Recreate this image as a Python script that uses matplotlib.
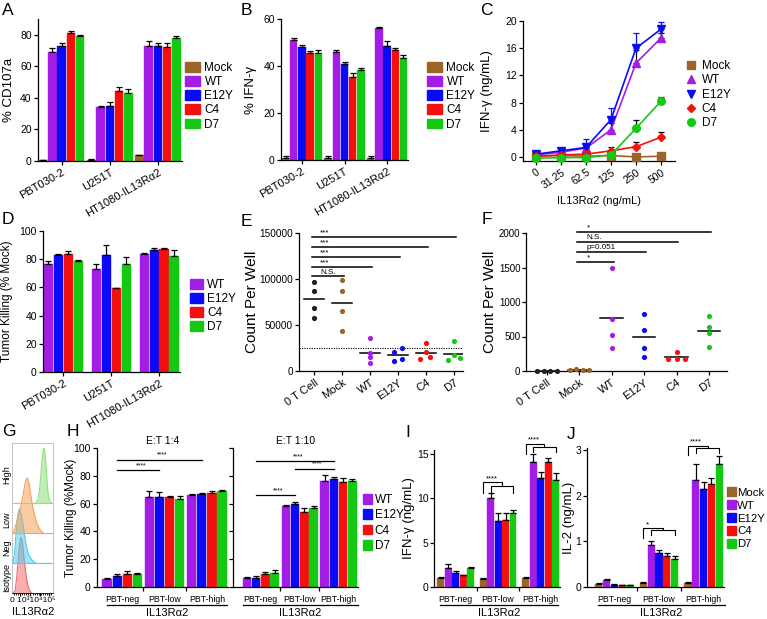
import numpy as np
import matplotlib
matplotlib.use('Agg')
import matplotlib.pyplot as plt
from matplotlib.patches import Patch
from matplotlib.lines import Line2D

plt.rcParams['font.family'] = ['Liberation Sans', 'DejaVu Sans']
plt.rcParams['axes.linewidth'] = 0.9
plt.rcParams['xtick.major.width'] = 0.9
plt.rcParams['ytick.major.width'] = 0.9
plt.rcParams['xtick.major.size'] = 3
plt.rcParams['ytick.major.size'] = 3
plt.rcParams['xtick.labelsize'] = 7
plt.rcParams['ytick.labelsize'] = 7.5

W, H = 767, 619

# ---- data ----
cell_lines = ['PBT030-2', 'U251T', 'HT1080-IL13Rα2']
variants5 = ['Mock', 'WT', 'E12Y', 'C4', 'D7']
variants4 = ['WT', 'E12Y', 'C4', 'D7']
colors = {'Mock': '#9c6428', 'WT': '#a41de6', 'E12Y': '#0a0af5',
          'C4': '#f51010', 'D7': '#14c814', '0 T Cell': '#202020'}

# A: % CD107a (rows = variants5, cols = cell lines)
a_mean = [[0.5, 0.7, 3.5], [69, 34, 73], [73, 35, 73], [81, 44.5, 72], [79.5, 43, 78]]
a_err = [[0.3, 0.3, 0.6], [2.5, 0.8, 3], [2, 2.5, 1.5], [1.3, 2.5, 2.5], [0.5, 2.5, 1]]

# B: % IFN-g
b_mean = [[1, 1, 1], [51, 46, 56], [48, 41, 48.5], [45.5, 35.5, 47], [45.5, 38.5, 43.5]]
b_err = [[0.5, 0.5, 0.5], [1, 1, 0.8], [1, 0.8, 2], [1, 1.5, 0.8], [1.2, 0.5, 1.2]]

# C: IFN-g vs IL13Ra2 concentration
c_conc = ['0', '31.25', '62.5', '125', '250', '500']
c_mean = [[0.1, 0.2, 0.1, 0.2, 0.0, 0.1],
          [0.3, 0.7, 1.3, 4.0, 13.8, 17.5],
          [0.4, 0.9, 1.4, 5.5, 16.0, 18.8],
          [0.1, 0.3, 0.4, 0.9, 1.5, 2.9],
          [-0.2, -0.1, -0.1, 0.3, 4.2, 8.2]]
c_err = [[0.1, 0.1, 0.1, 0.1, 0.1, 0.1],
         [0.2, 0.2, 0.4, 1.0, 1.9, 0.8],
         [0.2, 0.3, 1.2, 1.7, 2.3, 1.0],
         [0.1, 0.2, 0.3, 0.6, 0.7, 0.8],
         [0.1, 0.1, 0.1, 0.2, 1.2, 0.6]]

# D: tumor killing (rows = variants4)
d_mean = [[76.5, 73, 84], [83, 83, 86.5], [84, 59.5, 87], [78.5, 76.5, 82.5]]
d_err = [[2, 3.5, 0.3], [0.5, 7, 1.5], [1.5, 0.3, 0.8], [1, 5, 4]]

# E / F: counts per well
ef_cats = ['0 T Cell', 'Mock', 'WT', 'E12Y', 'C4', 'D7']
e_points = [[97000, 87000, 69000, 58000], [99000, 87000, 65000, 44000],
            [36000, 20000, 15000, 9000], [21000, 25000, 10500, 13500],
            [30000, 21000, 13000, 15000], [33000, 17000, 12000, 14000]]
e_cutoff = 25000
e_sig = [(1, 103000, 'N.S.'), (2, 113000, '***'), (3, 124000, '***'),
         (4, 135000, '***'), (5, 146000, '***')]
f_points = [[5, 5, 5, 5], [15, 25, 10, 10],
            [1490, 750, 520, 330], [830, 590, 340, 200],
            [270, 170, 180, 180], [790, 640, 550, 350]]
f_sig = [(2, 1580, '*'), (3, 1725, 'p=0.051'), (4, 1870, 'N.S.'), (5, 2015, '*')]

# G: flow histograms (x as fraction of axis, height above baseline)
g_rows = ['Isotype', 'Neg', 'Low', 'High']
g_iso_x = [0.03, 0.08, 0.12, 0.16, 0.20, 0.23, 0.26, 0.30, 0.34, 0.38, 0.42, 0.48]
g_iso_y = [0, 0.1, 0.6, 1.3, 1.8, 1.85, 1.6, 1.1, 0.6, 0.3, 0.1, 0]
g_neg_x = [0.02, 0.06, 0.10, 0.14, 0.18, 0.21, 0.24, 0.28, 0.32, 0.36, 0.40, 0.46, 0.52, 0.58]
g_neg_y = [0, 0.3, 1.0, 1.6, 1.8, 1.7, 1.5, 1.2, 0.8, 0.5, 0.3, 0.15, 0.05, 0]
g_low_x = [0.03, 0.08, 0.14, 0.20, 0.26, 0.31, 0.35, 0.38, 0.42, 0.46, 0.50, 0.55, 0.60, 0.65, 0.70, 0.76]
g_low_y = [0, 0.2, 0.5, 0.8, 1.2, 1.6, 1.8, 1.83, 1.6, 1.25, 0.9, 0.6, 0.35, 0.2, 0.08, 0]
g_high_x = [0.58, 0.63, 0.67, 0.70, 0.73, 0.76, 0.78, 0.80, 0.83, 0.86, 0.89, 0.93, 0.97]
g_high_y = [0, 0.1, 0.4, 0.9, 1.4, 1.75, 1.83, 1.7, 1.2, 0.6, 0.2, 0.05, 0]
g_tick_text = '0 10³10⁴10⁵'

# H: tumor killing by IL13Ra2 level (rows = variants4)
pbt_groups = ['PBT-neg', 'PBT-low', 'PBT-high']
h14_mean = [[6, 65, 66], [8, 65, 67], [9.5, 64.5, 67.5], [9, 63.5, 69]]
h14_err = [[0.8, 4, 0.8], [1.2, 3, 0.4], [2, 1, 1.5], [0.8, 2, 0.5]]
h110_mean = [[6.5, 58, 76], [6.5, 59.5, 77.5], [9, 54, 75.5], [10, 56.5, 76]]
h110_err = [[1, 1, 4.5], [1.5, 1.5, 1.5], [2, 2.5, 3], [2, 1.5, 2]]

# I: IFN-g (rows = variants5)
i_mean = [[1.0, 0.9, 1.05], [2.1, 10.0, 14.0], [1.6, 7.4, 12.3], [1.3, 7.5, 14.0], [2.1, 8.3, 12.0]]
i_err = [[0.1, 0.1, 0.1], [0.5, 0.6, 0.9], [0.2, 0.9, 0.6], [0.1, 0.8, 0.5], [0.1, 0.4, 0.8]]

# J: IL-2 (rows = variants5)
j_mean = [[0.07, 0.08, 0.09], [0.15, 0.93, 2.35], [0.05, 0.75, 2.15], [0.04, 0.67, 2.26], [0.04, 0.61, 2.69]]
j_err = [[0.01, 0.02, 0.02], [0.02, 0.08, 0.34], [0.01, 0.06, 0.15], [0.01, 0.08, 0.13], [0.01, 0.07, 0.19]]


# ---- helpers ----
def px_axes(fig, left, right, top, bottom):
    ax = fig.add_axes([left / W, 1 - bottom / H, (right - left) / W, (bottom - top) / H])
    ax.px_lr = (left, right)
    return ax


def clean(ax):
    ax.spines['top'].set_visible(False)
    ax.spines['right'].set_visible(False)
    ax.tick_params(direction='out', pad=1.5)


def ylab(ax, text, xpx, fs):
    # y label centred at a given pixel column
    left, right = ax.px_lr
    ax.set_ylabel(text, fontsize=fs)
    ax.yaxis.set_label_coords((xpx - left) / (right - left), 0.5)
    ax.yaxis.label.set_verticalalignment('center')


def grouped_bars(ax, means, errs, names, spacing):
    n = len(names)
    ngroups = len(means[0])
    centers = np.arange(ngroups) * spacing
    for k, name in enumerate(names):
        x = centers + (k - (n - 1) / 2)
        y = np.array(means[k])
        e = np.array(errs[k])
        ax.bar(x, y, width=0.92, color=colors[name], edgecolor=colors[name], lw=0.3, zorder=2)
        ax.errorbar(x, y, yerr=[np.zeros_like(e), e], fmt='none', ecolor='black',
                    elinewidth=0.9, capsize=2, capthick=0.9, zorder=3)
    return centers


def patch_legend(ax, fig, names, x, y, fs=8.5, hl=1.3, hh=0.9, pad=0.35, sp=0.18):
    handles = [Patch(facecolor=colors[n], edgecolor=colors[n], label=n) for n in names]
    ax.legend(handles=handles, loc='upper left', bbox_to_anchor=(x / W, 1 - y / H),
              bbox_transform=fig.transFigure, frameon=False, fontsize=fs,
              handlelength=hl, handleheight=hh, handletextpad=pad,
              labelspacing=sp, borderaxespad=0, borderpad=0)


def fig_text(fig, x, y, s, **kw):
    fig.text(x / W, 1 - y / H, s, **kw)


def fig_line(fig, x1, x2, y):
    fig.add_artist(Line2D([x1 / W, x2 / W], [1 - y / H, 1 - y / H], color='black', lw=0.9))


def bracket(ax, xm, x1, x2, ytop, ymid, yleg_m, yleg_g, label, fs=5.5):
    xc = (x1 + x2) / 2
    kw = dict(color='black', lw=0.8, clip_on=False)
    ax.plot([xm, xm, xc, xc], [yleg_m, ytop, ytop, ymid], **kw)
    ax.plot([x1, x1, x2, x2], [yleg_g, ymid, ymid, yleg_g], **kw)
    ax.text(xm + 0.3, ytop, label, ha='left', va='bottom', fontsize=fs)


def pbt_axis(ax, centers):
    bounds = [(centers[0] + centers[1]) / 2, (centers[1] + centers[2]) / 2]
    ax.set_xticks(bounds)
    ax.set_xticklabels(['', ''])
    ax.set_xticks(centers, minor=True)
    ax.set_xticklabels(pbt_groups, minor=True, fontsize=6.3)
    ax.tick_params(axis='x', which='minor', length=0, pad=6)


fig = plt.figure(figsize=(W / 100, H / 100), dpi=100)

# ---- A ----
ax = px_axes(fig, 38, 182, 19, 161)
clean(ax)
cen = grouped_bars(ax, a_mean, a_err, variants5, 5.2)
ax.set_xlim(-2.55, 2 * 5.2 + 2.6)
ax.set_ylim(0, 90)
ax.set_yticks([0, 20, 40, 60, 80])
ax.set_xticks(cen)
ax.set_xticklabels(cell_lines, rotation=30, ha='right', rotation_mode='anchor', fontsize=8)
ylab(ax, '% CD107a', 9, 9.5)
patch_legend(ax, fig, variants5, 185, 62)

# ---- B ----
ax = px_axes(fig, 281, 408, 19, 160)
clean(ax)
cen = grouped_bars(ax, b_mean, b_err, variants5, 5.2)
ax.set_xlim(-2.55, 2 * 5.2 + 2.55)
ax.set_ylim(0, 60)
ax.set_yticks([0, 20, 40, 60])
ax.set_xticks(cen)
ax.set_xticklabels(cell_lines, rotation=30, ha='right', rotation_mode='anchor', fontsize=8)
ylab(ax, '% IFN-γ', 251, 9.5)
patch_legend(ax, fig, variants5, 427, 62)

# ---- C ----
ax = px_axes(fig, 523, 675, 21, 161)
clean(ax)
markers = {'Mock': 's', 'WT': '^', 'E12Y': 'v', 'C4': 'D', 'D7': 'o'}
msize = {'Mock': 6, 'WT': 6, 'E12Y': 6, 'C4': 4.5, 'D7': 5.5}
xs = np.arange(len(c_conc))
for k, name in enumerate(variants5):
    y = np.array(c_mean[k])
    e = np.array(c_err[k])
    ecol = colors['E12Y'] if name == 'E12Y' else 'black'
    ax.errorbar(xs, y, yerr=[np.zeros_like(e), e], fmt='none', ecolor=ecol,
                elinewidth=0.9, capsize=2.5, capthick=0.9, zorder=2)
    ax.plot(xs, y, color=colors[name], lw=1.2, marker=markers[name],
            ms=msize[name], zorder=3, label=name, clip_on=False)
ax.set_xlim(-0.52, 5.56)
ax.set_ylim(-0.6, 20)
ax.set_yticks([0, 4, 8, 12, 16, 20])
ax.set_xticks(xs)
ax.set_xticklabels(c_conc, rotation=35, ha='right', rotation_mode='anchor', fontsize=7.5)
ax.set_xlabel('IL13Rα2 (ng/mL)', fontsize=8, labelpad=4)
ylab(ax, 'IFN-γ (ng/mL)', 487, 9.5)
ax.legend(loc='upper left', bbox_to_anchor=(685 / W, 1 - 60 / H), bbox_transform=fig.transFigure,
          frameon=False, fontsize=8.5, handlelength=1.0, handletextpad=0.4,
          labelspacing=0.2, borderaxespad=0, borderpad=0)
for h in ax.get_legend().legend_handles:
    h.set_linestyle('none')

# ---- D ----
ax = px_axes(fig, 43, 180, 231, 372)
clean(ax)
cen = grouped_bars(ax, d_mean, d_err, variants4, 4.8)
ax.set_xlim(-2.05, 2 * 4.8 + 2.1)
ax.set_ylim(0, 100)
ax.set_yticks([0, 20, 40, 60, 80, 100])
ax.set_xticks(cen)
ax.set_xticklabels(cell_lines, rotation=30, ha='right', rotation_mode='anchor', fontsize=8)
ylab(ax, 'Tumor Killing (% Mock)', 7, 8.5)
patch_legend(ax, fig, variants4, 190, 279, hl=1.1)


# ---- E / F ----
def count_panel(ax, points, offsets, sig, start, ytop):
    for i, (cat, vals) in enumerate(zip(ef_cats, points)):
        x = i + np.array(offsets[i])
        ax.scatter(x, vals, s=14, color=colors[cat], zorder=3, clip_on=False, lw=0)
        m = np.mean(vals)
        ax.plot([i - 0.35, i + 0.35], [m, m], color='black', lw=1.1, zorder=2)
    for target, yv, lab in sig:
        ax.plot([start - 0.08, target + 0.06], [yv, yv], color='black', lw=1.1, clip_on=False)
        ax.text(start + 0.22, yv + ytop * 0.004, lab, ha='left', va='bottom', fontsize=5.8)
    ax.set_xticks(range(len(ef_cats)))
    ax.set_xticklabels(ef_cats, rotation=35, ha='right', rotation_mode='anchor', fontsize=8)


zero_off = [0, 0, 0, 0]
e_offsets = [zero_off, zero_off, zero_off, [-0.15, 0.15, -0.15, 0.15],
             [0, 0, -0.2, 0.15], [0, 0, -0.2, 0.2]]
ax = px_axes(fig, 299, 463, 233, 371)
clean(ax)
count_panel(ax, e_points, e_offsets, e_sig, 0, 150000)
ax.axhline(e_cutoff, color='black', lw=0.8, ls=(0, (1, 1.2)), zorder=1)
ax.set_xlim(-0.54, 5.32)
ax.set_ylim(0, 150000)
ax.set_yticks([0, 50000, 100000, 150000])
ax.tick_params(axis='y', labelsize=7.2)
ylab(ax, 'Count Per Well', 252, 11)

spread = [-0.3, -0.1, 0.1, 0.3]
f_offsets = [spread, spread, [0, 0, 0, 0], [0, 0, 0, 0], [0, -0.25, 0, 0.25], [0, 0, 0, 0]]
ax = px_axes(fig, 526, 727, 233, 371)
clean(ax)
count_panel(ax, f_points, f_offsets, f_sig, 1, 2000)
ax.set_xlim(-0.65, 5.56)
ax.set_ylim(0, 2000)
ax.set_yticks([0, 500, 1000, 1500, 2000])
ax.tick_params(axis='y', labelsize=7, pad=1)
ylab(ax, 'Count Per Well', 490, 11)

# ---- G ----
ax = px_axes(fig, 12, 53, 443, 593)
curves = [(g_iso_x, g_iso_y, '#f26d6d'), (g_neg_x, g_neg_y, '#4fcdf0'),
          (g_low_x, g_low_y, '#f5a25e'), (g_high_x, g_high_y, '#8ee07e')]
for base, (gx, gy, fc) in enumerate(curves):
    gx = np.array(gx)
    gy = np.array(gy) + base
    ax.fill_between(gx, base, gy, color=fc, alpha=0.55, lw=0, zorder=2 + base)
    ax.plot(gx, gy, color=fc, lw=0.8, zorder=2 + base)
    if base > 0:
        ax.plot([0, 1], [base, base], color=fc, lw=0.8, zorder=2 + base)
ax.set_xlim(0, 1)
ax.set_ylim(0, 5)
for s in ax.spines.values():
    s.set_color('#bbbbbb')
    s.set_linewidth(0.6)
ax.spines['bottom'].set_color('black')
ax.set_yticks([])
ax.set_xticks([0.2, 0.45, 0.68, 0.9])
ax.set_xticklabels([])
ax.set_xticks(np.linspace(0.05, 0.95, 19), minor=True)
ax.tick_params(axis='x', which='major', length=2)
ax.tick_params(axis='x', which='minor', length=1.2)
fig_text(fig, 33, 601, g_tick_text, ha='center', va='center', fontsize=6)
for name, yc in zip(g_rows, [577, 548, 520, 475]):
    fig_text(fig, 7, yc, name, rotation=90, ha='center', va='center', fontsize=6.5)
fig_text(fig, 33, 612, 'IL13Rα2', ha='center', va='center', fontsize=8)

# ---- H ----
ax = px_axes(fig, 97, 228, 448, 587)
clean(ax)
cen = grouped_bars(ax, h14_mean, h14_err, variants4, 4.2)
ax.set_xlim(-2.5, 2 * 4.2 + 2.1)
ax.set_ylim(0, 100)
ax.set_yticks([0, 20, 40, 60, 80, 100])
pbt_axis(ax, cen)
ylab(ax, 'Tumor Killing (%Mock)', 71, 8.5)
ax.set_title('E:T 1:4', fontsize=7.5, pad=3)
for x2, yv in [(cen[1] - 0.5, 84), (cen[2] - 0.5, 91.5)]:
    ax.plot([cen[0] - 0.5, x2], [yv, yv], color='black', lw=0.9, clip_on=False)
    ax.text((cen[0] - 0.5 + x2) / 2 + 0.3, yv + 0.8, '****', ha='center', va='bottom', fontsize=5)

ax = px_axes(fig, 233, 358, 448, 587)
clean(ax)
cen = grouped_bars(ax, h110_mean, h110_err, variants4, 4.2)
ax.set_xlim(-3.0, 2 * 4.2 + 2.1)
ax.set_ylim(0, 100)
ax.set_yticks([0, 20, 40, 60, 80, 100])
ax.set_yticklabels([])
pbt_axis(ax, cen)
ax.set_title('E:T 1:10', fontsize=7.5, pad=3)
for x1, x2, yv in [(cen[0] - 0.5, cen[1] - 0.5, 66), (cen[1] - 0.5, cen[2] - 0.5, 85),
                   (cen[0] - 0.5, cen[2] - 0.5, 90.6)]:
    ax.plot([x1, x2], [yv, yv], color='black', lw=0.9, clip_on=False)
    ax.text((x1 + x2) / 2 + 0.3, yv + 0.8, '****', ha='center', va='bottom', fontsize=5)
patch_legend(ax, fig, variants4, 363, 494, hl=0.8, pad=0.2, sp=0.28)

# ---- I ----
ax = px_axes(fig, 434, 560, 450, 587)
clean(ax)
cen = grouped_bars(ax, i_mean, i_err, variants5, 5.7)
ax.set_xlim(-2.9, 2 * 5.7 + 2.6)
ax.set_ylim(0, 15.4)
ax.set_yticks([0, 5, 10, 15])
ax.tick_params(axis='y', pad=1)
pbt_axis(ax, cen)
ylab(ax, 'IFN-γ (ng/mL)', 409, 9.5)
bracket(ax, cen[1] - 2, cen[1] - 1, cen[1] + 2, 11.8, 11.3, 10.6, 10.6, '****')
bracket(ax, cen[2] - 2, cen[2] - 1, cen[2] + 2, 16.1, 15.7, 14.9, 15.2, '****')

# ---- J ----
ax = px_axes(fig, 587, 724, 448, 587)
clean(ax)
cen = grouped_bars(ax, j_mean, j_err, variants5, 5.7)
ax.set_xlim(-3.5, 2 * 5.7 + 2.6)
ax.set_ylim(0, 3.05)
ax.set_yticks([0, 1, 2, 3])
ax.tick_params(axis='y', pad=1)
pbt_axis(ax, cen)
ylab(ax, 'IL-2 (ng/mL)', 569, 9.5)
bracket(ax, cen[1] - 2, cen[1] - 1, cen[1] + 2, 1.29, 1.25, 1.07, 1.14, '*', fs=6)
bracket(ax, cen[2] - 2, cen[2] - 1, cen[2] + 2, 3.1, 3.04, 2.89, 2.95, '****')
patch_legend(ax, fig, variants5, 727, 487, fs=8.2, hl=0.75, pad=0.12, sp=0.2)

# underlines + IL13Ra2 labels below H, I, J
for x1, x2 in [(107, 227), (243, 358), (440, 558), (598, 725)]:
    fig_line(fig, x1, x2, 605)
    fig_text(fig, (x1 + x2) / 2, 613, 'IL13Rα2', ha='center', va='center', fontsize=8)

# panel letters
for letter, x, y in [('A', 2, 3), ('B', 241, 3), ('C', 480, 3), ('D', 2, 212), ('E', 241, 214),
                     ('F', 482, 212), ('G', 2, 424), ('H', 67, 424), ('I', 405, 425), ('J', 567, 427)]:
    fig_text(fig, x, y, letter, ha='left', va='top', fontsize=12.5)

fig.savefig('out.png', dpi=100)
